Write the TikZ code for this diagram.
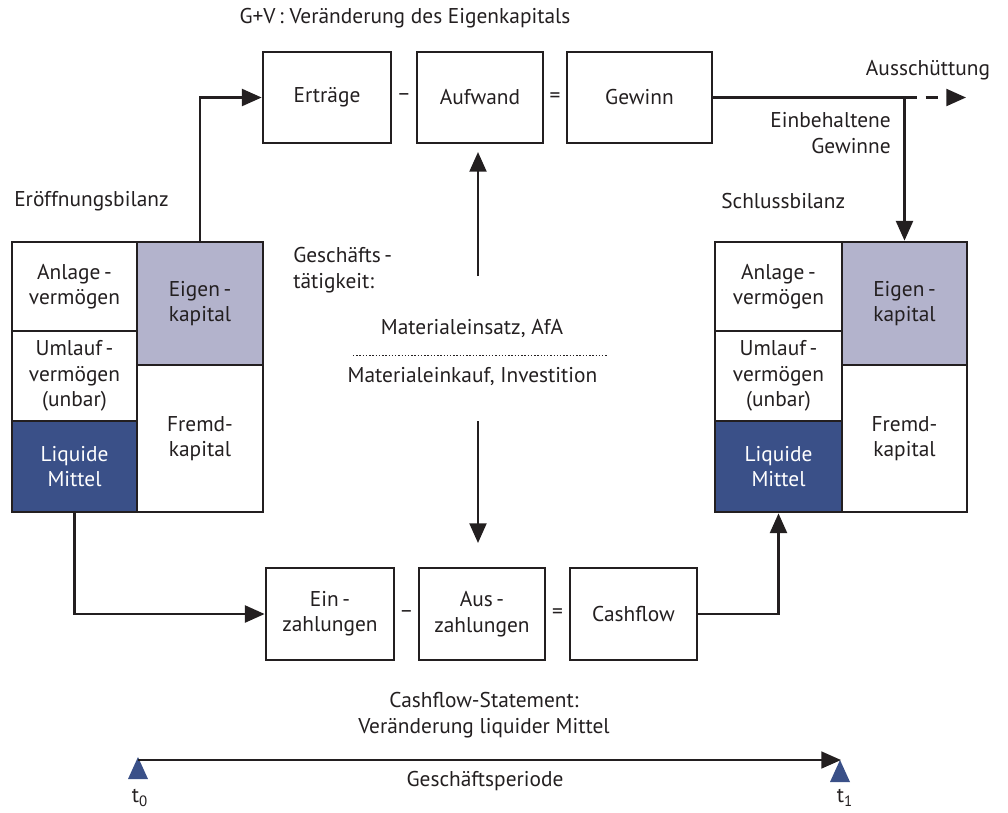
\documentclass[tikz,border=0pt]{standalone}
\usepackage{fontspec}
\setmainfont{PT Sans}
\usetikzlibrary{arrows.meta}
\definecolor{ekfill}{HTML}{B3B3CC}
\definecolor{lmfill}{HTML}{3A5088}
\definecolor{ink}{HTML}{231F20}
\begin{document}
\begin{tikzpicture}[x=0.025cm,y=-0.025cm,
  font=\fontsize{15.2}{18}\selectfont, text=ink,
  box/.style={draw=ink, line width=1.9pt, align=center, inner sep=0pt},
  cell/.style={box, fill=white},
  ekcell/.style={box, fill=ekfill},
  lmcell/.style={box, fill=lmfill, text=white},
  conn/.style={line width=1.8pt, draw=ink, -{Triangle[width=12pt,length=14pt]}},
  lbl/.style={align=center, inner sep=0pt}]
\useasboundingbox (0,0) rectangle (1008,812);

% title
\node[lbl] (gv) at (405,18) {G+V\,: Veränderung des Eigenkapitals};

% top boxes
\node[box, minimum width=3.2cm, minimum height=2.275cm] (ertr) at (327,97.5) {Erträge};
\node[box, minimum width=3.15cm, minimum height=2.275cm] (aufw) at (480,97.5) {Aufwand};
\node[box, minimum width=3.625cm, minimum height=2.275cm] (gew) at (639.5,97.5) {Gewinn};
\node[lbl] (m1) at (404,97.5) {–};
\node[lbl] (e1) at (555,97.5) {=};

% bottom boxes
\node[box, minimum width=3.2cm, minimum height=2.3cm] (einz) at (330,614) {Ein\,-\\zahlungen};
\node[box, minimum width=3.15cm, minimum height=2.3cm] (ausz) at (482,614) {Aus\,-\\zahlungen};
\node[box, minimum width=3.175cm, minimum height=2.3cm] (cash) at (633.5,614) {Cashflow};
\node[lbl] (m2) at (406.5,614) {–};
\node[lbl] (e2) at (557.5,614) {=};

% left balance
\node[lbl, anchor=west] (eb) at (14,201) {Eröffnungsbilanz};
\node[cell, minimum width=3.125cm, minimum height=2.225cm] (LA) at (74.5,286.5) {Anlage\,-\\vermögen};
\node[cell, minimum width=3.125cm, minimum height=2.25cm] (LU) at (74.5,376) {Umlauf\,-\\vermögen\\(unbar)};
\node[lmcell, minimum width=3.125cm, minimum height=2.275cm] (LL) at (74.5,466.5) {Liquide\\Mittel};
\node[ekcell, minimum width=3.15cm, minimum height=3.075cm] (LE) at (200,303.5) {Eigen\,-\\kapital};
\node[cell, minimum width=3.15cm, minimum height=3.675cm] (LF) at (200,438.5) {Fremd-\\kapital};

% right balance
\node[lbl, anchor=west] (sb) at (721,201) {Schlussbilanz};
\node[cell, minimum width=3.175cm, minimum height=2.225cm] (RA) at (778.5,286.5) {Anlage\,-\\vermögen};
\node[cell, minimum width=3.175cm, minimum height=2.25cm] (RU) at (778.5,376) {Umlauf\,-\\vermögen\\(unbar)};
\node[lmcell, minimum width=3.175cm, minimum height=2.275cm] (RL) at (778.5,466.5) {Liquide\\Mittel};
\node[ekcell, minimum width=3.125cm, minimum height=3.075cm] (RE) at (904.5,303.5) {Eigen\,-\\kapital};
\node[cell, minimum width=3.125cm, minimum height=3.675cm] (RF) at (904.5,438.5) {Fremd-\\kapital};

% connectors
\draw[conn] (LE.north) |- (ertr.west);
\draw[conn] (gew.east) -| (RE.north);
\coordinate (corner) at (904.5,97.5);
\coordinate (ausend) at (966,97.5);
\draw[conn, dash pattern=on 9pt off 6pt] (corner) -- (ausend);
\node[lbl] (aus) at (928,70) {Ausschüttung};
\node[lbl, anchor=east, align=right] (einb) at (891,133) {Einbehaltene\\Gewinne};
\draw[conn] (LL.south) |- (einz.west);
\draw[conn] (cash.east) -| (RL.south);

% middle
\coordinate (upS) at (478,276);
\coordinate (upE) at (478,152);
\draw[conn] (upS) -- (upE);
\coordinate (dnS) at (478,421);
\coordinate (dnE) at (478,543);
\draw[conn] (dnS) -- (dnE);
\node[lbl, anchor=west, align=left] (gt) at (293,270) {Geschäfts\,-\\tätigkeit:};
\node[lbl] (mat1) at (472,328) {Materialeinsatz, AfA};
\coordinate (dl) at (353,355);
\coordinate (dr) at (607,355);
\draw[line width=0.7pt, draw=ink, dash pattern=on 1pt off 1.3pt] (dl) -- (dr);
\node[lbl] (mat2) at (472.5,377) {Materialeinkauf, Investition};

\node[lbl] (cfs) at (484,715) {Cashflow-Statement:\\Veränderung liquider Mittel};

% timeline
\fill[lmfill] (128,779) -- (138,757) -- (148,779) -- cycle;
\fill[lmfill] (830,782) -- (840,760) -- (850,782) -- cycle;
\coordinate (ts) at (138,760);
\coordinate (te) at (841,760);
\draw[conn, line width=1.5pt] (ts) -- (te);
\node[lbl] (gp) at (485,781) {Geschäftsperiode};
\node[lbl] (t0) at (140,798) {t\textsubscript{0}};
\node[lbl] (t1) at (845,798) {t\textsubscript{1}};
\end{tikzpicture}
\end{document}
